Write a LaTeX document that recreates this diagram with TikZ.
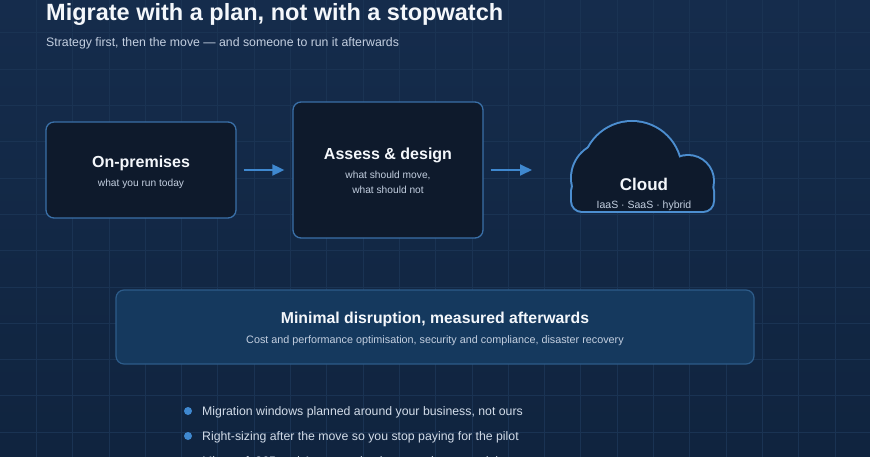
\documentclass[tikz,border=0pt]{standalone}
\usepackage{fontspec}
\setmainfont{Liberation Sans}
\usetikzlibrary{arrows.meta}
\definecolor{bgtop}{HTML}{152C4C}
\definecolor{bgbot}{HTML}{10243F}
\definecolor{gridc}{HTML}{1A3353}
\definecolor{boxfill}{HTML}{0E1A2C}
\definecolor{boxline}{HTML}{3A70A8}
\definecolor{cloudline}{HTML}{4C8ED0}
\definecolor{bandfill}{HTML}{15395E}
\definecolor{bandline}{HTML}{2D5C8A}
\definecolor{accent}{HTML}{3F88CF}
\definecolor{subtxt}{HTML}{C3CFE0}
\definecolor{bodytxt}{HTML}{D2DCE9}
\definecolor{titletxt}{HTML}{F4F7FB}
\tikzset{
  stagebox/.style={draw=boxline, line width=1.3pt, fill=boxfill, rounded corners=8pt, inner sep=0pt},
  bandbox/.style={draw=bandline, line width=1.2pt, fill=bandfill, rounded corners=8pt, inner sep=0pt},
  boxtitle/.style={anchor=base, inner sep=0pt, text=titletxt, font=\bfseries\fontsize{16}{19}\selectfont},
  boxsub/.style={anchor=base, inner sep=0pt, text=subtxt, font=\fontsize{10.2}{12}\selectfont},
  flowarrow/.style={draw=accent, line width=1.8pt, -{Triangle[length=12pt,width=11pt]}},
  bulletdot/.style={circle, fill=accent, inner sep=0pt, minimum size=8pt},
  bullettext/.style={anchor=base west, inner sep=0pt, text=bodytxt, font=\fontsize{12.3}{15}\selectfont},
  cloudedge/.style={draw=cloudline, line width=4pt},
}
\begin{document}
\begin{tikzpicture}[x=1pt,y=-1pt]
\useasboundingbox (0,0) rectangle (870,457);
\clip (0,0) rectangle (870,457);
\shade[top color=bgtop, bottom color=bgbot] (0,0) rectangle (870,457);
% grid
\foreach \i in {1,...,23} \draw[gridc, line width=0.7pt] (\i*36.3,0) -- (\i*36.3,457);
\foreach \j in {1,...,13} \draw[gridc, line width=0.7pt] (0,\j*36.3-3.5) -- (870,\j*36.3-3.5);

% heading
\node[anchor=base west, inner sep=0pt, text=titletxt, font=\bfseries\fontsize{23.5}{28}\selectfont] (title) at (46,21) {Migrate with a plan, not with a stopwatch};
\node[anchor=base west, inner sep=0pt, text=subtxt, font=\fontsize{12.3}{15}\selectfont] (subtitle) at (46,47) {Strategy first, then the move — and someone to run it afterwards};

% stage boxes
\node[stagebox, minimum width=190pt, minimum height=96pt] (onprem) at (141,170) {};
\node[boxtitle] (onpremT) at (141,168) {On-premises};
\node[boxsub] (onpremS) at (141,186.5) {what you run today};

\node[stagebox, minimum width=190pt, minimum height=136pt] (assess) at (388,170) {};
\node[boxtitle] (assessT) at (388,160) {Assess \& design};
\node[boxsub] (assessS1) at (388,178.3) {what should move,};
\node[boxsub] (assessS2) at (388,193.3) {what should not};

% cloud: outline of the union of three circles and a rounded base
\begin{scope}
  \clip (550,100) rectangle (740,200);
  \draw[cloudedge] (607,178) circle[radius=35];
  \draw[cloudedge] (632,171) circle[radius=49];
  \draw[cloudedge] (688,181) circle[radius=25];
\end{scope}
\draw[cloudedge, rounded corners=10pt] (572,181) rectangle (713,211);
\begin{scope}
  \clip (550,100) rectangle (740,200);
  \fill[boxfill] (607,178) circle[radius=35];
  \fill[boxfill] (632,171) circle[radius=49];
  \fill[boxfill] (688,181) circle[radius=25];
\end{scope}
\fill[boxfill, rounded corners=10pt] (572,181) rectangle (713,211);
\node[inner sep=0pt, minimum width=141pt, minimum height=89pt] (cloud) at (642.5,166.5) {};
\node[anchor=base, inner sep=0pt, text=titletxt, font=\bfseries\fontsize{17}{20}\selectfont] (cloudT) at (644,190.7) {Cloud};
\node[anchor=base, inner sep=0pt, text=subtxt, font=\fontsize{10.5}{12}\selectfont] (cloudS) at (644,209) {IaaS · SaaS · hybrid};

% arrows
\coordinate (cloudin) at (532,170);
\draw[flowarrow] ([xshift=7pt]onprem.east) -- ([xshift=-8pt]assess.west);
\draw[flowarrow] ([xshift=7pt]assess.east) -- (cloudin);

% band
\node[bandbox, minimum width=638pt, minimum height=74pt] (band) at (435,327) {};
\node[anchor=base, inner sep=0pt, text=titletxt, font=\bfseries\fontsize{15.8}{19}\selectfont] (bandT) at (435,323) {Minimal disruption, measured afterwards};
\node[anchor=base, inner sep=0pt, text=subtxt, font=\fontsize{10.8}{13}\selectfont] (bandS) at (435,343) {Cost and performance optimisation, security and compliance, disaster recovery};

% bullets
\node[bulletdot] (d1) at (188,411) {};
\node[bullettext] (b1) at (202,415) {Migration windows planned around your business, not ours};
\node[bulletdot] (d2) at (188,436) {};
\node[bullettext] (b2) at (202,440) {Right-sizing after the move so you stop paying for the pilot};
\node[bulletdot] (d3) at (188,461) {};
\node[bullettext] (b3) at (202,465) {Microsoft 365 and Azure run by the team that moved them};
\end{tikzpicture}
\end{document}
